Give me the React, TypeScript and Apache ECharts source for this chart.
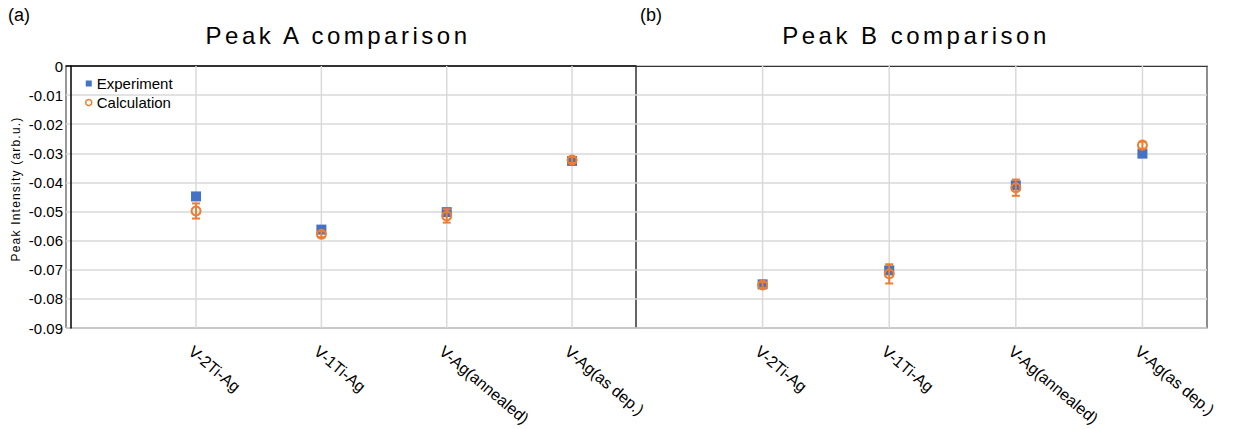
import React, { useEffect, useRef } from 'react';
import * as echarts from 'echarts';

const categories = ['V-2Ti-Ag', 'V-1Ti-Ag', 'V-Ag(annealed)', 'V-Ag(as dep.)'];
const categoryX = [1, 2, 3, 4];

const peakAExperiment = [-0.0448, -0.0562, -0.0502, -0.0326];
const peakACalculation = [-0.0498, -0.0578, -0.0515, -0.0323];
const peakAError = [0.0026, 0.001, 0.0023, 0.001];

const peakBExperiment = [-0.075, -0.0702, -0.041, -0.0301];
const peakBCalculation = [-0.0752, -0.0714, -0.0418, -0.0272];
const peakBError = [0.001, 0.0033, 0.0028, 0.0012];

const yMin = -0.09;
const yMax = 0;
const yStep = 0.01;

const titles = ['Peak A comparison', 'Peak B comparison'];
const panelTags = ['(a)', '(b)'];
const yAxisName = 'Peak Intensity (arb.u.)';

const BLUE = '#4472C4';
const ORANGE = '#ED7D31';
const GRID_GRAY = '#d9d9d9';
const FONT = "'Liberation Sans', Arial, sans-serif";

function pairs(ys: number[]) {
  return categoryX.map((x, i) => [x, ys[i]]);
}
function triples(ys: number[], es: number[]) {
  return categoryX.map((x, i) => [x, ys[i], es[i]]);
}

const errorRender = (params: any, api: any) => {
  const x = api.value(0);
  const y = api.value(1);
  const e = api.value(2);
  const top = api.coord([x, y + e]);
  const bot = api.coord([x, y - e]);
  const cap = 4;
  const style = { stroke: ORANGE, lineWidth: 2 };
  return {
    type: 'group',
    children: [
      { type: 'line', shape: { x1: top[0], y1: top[1], x2: bot[0], y2: bot[1] }, style },
      { type: 'line', shape: { x1: top[0] - cap, y1: top[1], x2: top[0] + cap, y2: top[1] }, style },
      { type: 'line', shape: { x1: bot[0] - cap, y1: bot[1], x2: bot[0] + cap, y2: bot[1] }, style },
    ],
  };
};

const vGridRender = (params: any, api: any) => {
  const cs = params.coordSys;
  const p = api.coord([api.value(0), api.value(1)]);
  return {
    type: 'line',
    shape: { x1: p[0], y1: cs.y, x2: p[0], y2: cs.y + cs.height },
    style: { stroke: GRID_GRAY, lineWidth: 1.5 },
  };
};

function panelSeries(idx: number, exp: number[], calc: number[], err: number[]) {
  return [
    {
      type: 'custom',
      name: 'vgrid' + idx,
      xAxisIndex: idx,
      yAxisIndex: idx,
      z: 1,
      silent: true,
      renderItem: vGridRender,
      data: categoryX.map((x) => [x, yMax]),
    },
    {
      type: 'scatter',
      name: 'Experiment',
      xAxisIndex: idx,
      yAxisIndex: idx,
      z: 2,
      symbol: 'rect',
      symbolSize: 10,
      itemStyle: { color: BLUE, opacity: 1 },
      data: pairs(exp),
    },
    {
      type: 'custom',
      name: 'err' + idx,
      xAxisIndex: idx,
      yAxisIndex: idx,
      z: 3,
      silent: true,
      renderItem: errorRender,
      data: triples(calc, err),
    },
    {
      type: 'scatter',
      name: 'Calculation',
      xAxisIndex: idx,
      yAxisIndex: idx,
      z: 4,
      symbol: 'circle',
      symbolSize: 9,
      itemStyle: { color: 'rgba(0,0,0,0)', borderColor: ORANGE, borderWidth: 2, opacity: 1 },
      data: pairs(calc),
    },
  ];
}

const xLabelFormatter = (v: number) => {
  const i = categoryX.indexOf(v);
  return i >= 0 ? categories[i] : '';
};

export default function App() {
  const ref = useRef<HTMLDivElement>(null);

  useEffect(() => {
    if (!ref.current) return;
    const chart = echarts.init(ref.current, undefined, { renderer: 'svg' });
    const xAxisCommon = {
      type: 'value',
      max: 4.51,
      axisTick: { show: false },
      splitLine: { show: false },
      axisLine: { show: true, lineStyle: { color: '#000', width: 1.5 } },
      axisLabel: {
        formatter: xLabelFormatter,
        rotate: -40,
        fontSize: 16,
        color: '#000',
        margin: 15,
        verticalAlign: 'top',
        fontFamily: FONT,
      },
    };
    const yAxisCommon = {
      type: 'value',
      min: yMin,
      max: yMax,
      interval: yStep,
      splitLine: { show: true, lineStyle: { color: GRID_GRAY, width: 1.5 } },
      axisTick: { show: false },
    };
    const textStyleOf = (size: number) => ({
      fontSize: size,
      fill: '#000',
      font: `${size}px ${FONT}`,
      align: 'center',
      verticalAlign: 'middle',
      textAlign: 'center',
      textVerticalAlign: 'middle',
    });
    const option: any = {
      animation: false,
      textStyle: { fontFamily: FONT },
      grid: [
        { left: 66, top: 66, width: 570, height: 262, show: true, borderColor: '#333', borderWidth: 1, backgroundColor: 'transparent' },
        { left: 636, top: 66, width: 571, height: 262, show: true, borderColor: '#444', borderWidth: 1.2, backgroundColor: 'transparent' },
      ],
      xAxis: [
        { ...xAxisCommon, gridIndex: 0, min: -0.0375 },
        { ...xAxisCommon, gridIndex: 1, min: 0, axisLine: { show: true, lineStyle: { color: '#333', width: 1.2 } } },
      ],
      yAxis: [
        {
          ...yAxisCommon,
          gridIndex: 0,
          axisLine: { show: true, lineStyle: { color: '#000', width: 1.5 } },
          axisLabel: {
            fontSize: 15,
            color: '#000',
            margin: 3,
            fontFamily: FONT,
            formatter: (v: number) => (Math.abs(v) < 1e-9 ? '0' : v.toFixed(2)),
          },
        },
        {
          ...yAxisCommon,
          gridIndex: 1,
          axisLine: { show: false },
          axisLabel: { show: false },
        },
      ],
      legend: {
        orient: 'vertical',
        left: 85,
        top: 76,
        padding: 0,
        itemWidth: 6,
        itemHeight: 6,
        itemGap: 4,
        textStyle: { fontSize: 15, color: '#000', fontFamily: FONT },
        data: [
          { name: 'Experiment', icon: 'rect', itemStyle: { color: BLUE } },
          { name: 'Calculation', icon: 'circle', itemStyle: { color: 'rgba(0,0,0,0)', borderColor: ORANGE, borderWidth: 1.5 } },
        ],
      },
      graphic: [
        { type: 'text', x: 19, y: 15, style: { text: panelTags[0], ...textStyleOf(18) } },
        { type: 'text', x: 651, y: 15, style: { text: panelTags[1], ...textStyleOf(18) } },
        { type: 'text', x: 338, y: 35, style: { text: titles[0], ...textStyleOf(24) } },
        { type: 'text', x: 916, y: 35, style: { text: titles[1], ...textStyleOf(24) } },
        { type: 'text', x: 16, y: 189, rotation: Math.PI / 2, style: { text: yAxisName, ...textStyleOf(12) } },
      ],
      series: [
        ...panelSeries(0, peakAExperiment, peakACalculation, peakAError),
        ...panelSeries(1, peakBExperiment, peakBCalculation, peakBError),
      ],
    };
    chart.setOption(option);
    const spacing: Record<string, string> = {
      [titles[0]]: '3.5px',
      [titles[1]]: '3.5px',
      [yAxisName]: '1.2px',
    };
    ref.current.querySelectorAll('text').forEach((t) => {
      const s = spacing[t.textContent || ''];
      if (s) (t as SVGTextElement).style.letterSpacing = s;
    });
    return () => chart.dispose();
  }, []);

  return <div ref={ref} style={{ position: 'absolute', left: 0, top: 0, width: 1250, height: 429, background: '#fff' }} />;
}
